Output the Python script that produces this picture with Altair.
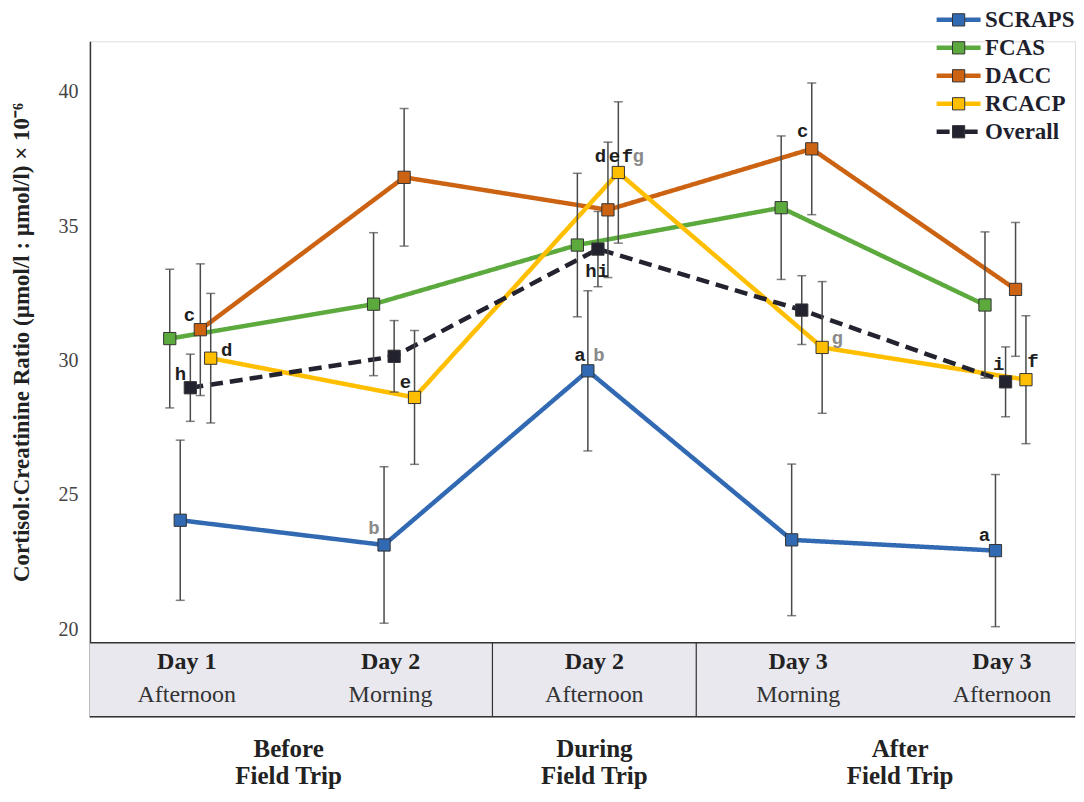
import altair as alt
import pandas as pd

# ---------------- data ----------------
series = ["SCRAPS", "FCAS", "DACC", "RCACP", "Overall"]
day_labels = ["Day 1", "Day 2", "Day 2", "Day 3", "Day 3"]
time_labels = ["Afternoon", "Morning", "Afternoon", "Morning", "Afternoon"]
phase_line1 = ["Before", "During", "After"]
phase_line2 = ["Field Trip", "Field Trip", "Field Trip"]
phase_of_time = [0, 0, 1, 2, 2]

scraps_mean = [24.06, 23.14, 29.62, 23.33, 22.93]
scraps_err = [2.98, 2.91, 2.98, 2.82, 2.83]
fcas_mean = [30.82, 32.10, 34.30, 35.69, 32.07]
fcas_err = [2.58, 2.66, 2.67, 2.67, 2.72]
dacc_mean = [31.15, 36.82, 35.61, 37.88, 32.65]
dacc_err = [2.45, 2.56, 2.52, 2.45, 2.49]
rcacp_mean = [30.09, 28.63, 37.00, 30.49, 29.29]
rcacp_err = [2.41, 2.49, 2.63, 2.45, 2.38]
overall_mean = [28.99, 30.16, 34.15, 31.88, 29.21]
overall_err = [1.25, 1.33, 1.40, 1.28, 1.30]

# significance letters
letter_text = ["c", "d", "h", "b", "e", "a", "b", "d", "e", "f", "g", "h", "i", "c", "g", "a", "i", "f"]
letter_series = ["DACC", "RCACP", "Overall", "SCRAPS", "RCACP", "SCRAPS", "SCRAPS", "RCACP", "RCACP",
                 "RCACP", "RCACP", "Overall", "Overall", "DACC", "RCACP", "SCRAPS", "Overall", "RCACP"]
letter_time = [0, 0, 0, 1, 1, 2, 2, 2, 2, 2, 2, 2, 2, 3, 3, 4, 4, 4]
letter_grey = [False, False, False, True, False, False, True, False, False, False, True,
               False, False, False, True, False, False, False]

# ---------------- layout / style ----------------
colors = ["#3169b3", "#5caa3e", "#cc6313", "#ffbf00", "#22232f"]
dashes = [[1, 0], [1, 0], [1, 0], [1, 0], [13, 7]]
series_nudge_px = {"FCAS": -17, "SCRAPS": -6.5, "Overall": 3.6, "DACC": 13.6, "RCACP": 24}
letter_nudge_px = [(-11, -15), (16, -8), (-10, -14), (-10, -17), (-9, -15), (-8, -16), (11, -16),
                   (-18, -16), (-4, -16), (9, -16), (20, -16), (-7, 22), (5, 22), (-9, -18),
                   (15, -9), (-11, -16), (-7, -18), (7, -19)]

PX_X = 204.0
PX_Y = 26.9
W = 986
H = 676
X_MIN = -0.475
X_MAX = X_MIN + W / PX_X
Y_MIN = 16.75          # bottom of the time-point table
Y_TABLE_TOP = 19.5     # top of the table / bottom of plotting region
Y_MAX = Y_MIN + H / PX_Y
Y_DAY = 18.79
Y_TIME = 17.55
Y_PHASE1 = 15.55
Y_PHASE2 = 14.55
FONT = "Liberation Serif"

means = dict(zip(series, [scraps_mean, fcas_mean, dacc_mean, rcacp_mean, overall_mean]))
errs = dict(zip(series, [scraps_err, fcas_err, dacc_err, rcacp_err, overall_err]))

rows = []
for s in series:
    for i in range(len(day_labels)):
        m = means[s][i]
        e = errs[s][i]
        rows.append(dict(series=s, marker=s.lower(), t=i,
                         x=i + series_nudge_px[s] / PX_X,
                         mean=m, lo=m - e, hi=m + e))
df = pd.DataFrame(rows)

ann_rows = []
for txt, s, i, g, (dx, dy) in zip(letter_text, letter_series, letter_time, letter_grey, letter_nudge_px):
    ann_rows.append(dict(text=txt,
                         x=i + (series_nudge_px[s] + dx) / PX_X,
                         y=means[s][i] - dy / PX_Y,
                         color="#8a8a8a" if g else "#1e1e1e"))
ann = pd.DataFrame(ann_rows)

xscale = alt.Scale(domain=[X_MIN, X_MAX], nice=False, zero=False)
yscale = alt.Scale(domain=[Y_MIN, Y_MAX], nice=False, zero=False)
title_y = (Y_MAX - (Y_TABLE_TOP + Y_MAX) / 2) * PX_Y
yaxis = alt.Axis(values=[20, 25, 30, 35, 40], ticks=False, grid=False, domainColor="#333333",
                 domainWidth=1.5, labelFontSize=20, labelColor="#444444", labelPadding=12,
                 labelFont=FONT,
                 title="Cortisol:Creatinine Ratio (µmol/l : µmol/l) × 10⁻⁶",
                 titleFont=FONT, titleFontSize=23, titleFontWeight="bold", titleColor="#222222",
                 titleX=-56, titleY=title_y, titleAngle=270, titleAlign="center",
                 titleBaseline="bottom")


def X(field):
    return alt.X(field, scale=xscale, axis=None)


def Y(field):
    return alt.Y(field, scale=yscale, axis=yaxis)


line_legend = alt.Legend(title=None, orient="none", legendX=847, legendY=-33, direction="vertical",
                         symbolType="M-4,0H-1.1M1.1,0H4", symbolSize=121, symbolStrokeWidth=4.5,
                         symbolOffset=11, labelFont=FONT, labelFontSize=23, labelFontWeight="bold",
                         labelColor="#1f1f2e", labelOffset=15, rowPadding=4, padding=0,
                         labelLimit=300)
square_legend = alt.Legend(title=None, orient="none", legendX=847, legendY=-33, direction="vertical",
                           symbolType="square", symbolSize=150, symbolStrokeWidth=1,
                           symbolStrokeColor="#333333", symbolOpacity=1, symbolOffset=11,
                           labelFont=FONT, labelFontSize=23, labelExpr="''", labelOffset=15,
                           rowPadding=4, padding=0)

# ---------------- table below the plot ----------------
n_t = len(day_labels)
band = pd.DataFrame([dict(x=X_MIN, x2=X_MAX, y=Y_MIN, y2=Y_TABLE_TOP)])
hlines = pd.DataFrame([dict(x=X_MIN, x2=X_MAX, y=Y_TABLE_TOP), dict(x=X_MIN, x2=X_MAX, y=Y_MIN)])
dividers = pd.DataFrame([dict(x=(i + i + 1) / 2, y=Y_MIN, y2=Y_TABLE_TOP)
                         for i in range(n_t - 1) if phase_of_time[i] != phase_of_time[i + 1]])
day_df = pd.DataFrame(dict(x=list(range(n_t)), day=day_labels, time=time_labels,
                           yd=[Y_DAY] * n_t, yt=[Y_TIME] * n_t))
phase_centers = []
for p in range(len(phase_line1)):
    idx = [i for i in range(n_t) if phase_of_time[i] == p]
    phase_centers.append(sum(idx) / len(idx))
phase_df = pd.DataFrame(dict(x=phase_centers + phase_centers,
                             label=phase_line1 + phase_line2,
                             y=[Y_PHASE1] * len(phase_line1) + [Y_PHASE2] * len(phase_line2)))

band_layer = alt.Chart(band).mark_rect(fill="#e8e8ee").encode(
    x=X("x:Q"), x2="x2:Q", y=Y("y:Q"), y2="y2:Q")
hline_layer = alt.Chart(hlines).mark_rule(color="#333333", strokeWidth=1.5).encode(
    x=X("x:Q"), x2="x2:Q", y=Y("y:Q"))
div_layer = alt.Chart(dividers).mark_rule(color="#333333", strokeWidth=1.2).encode(
    x=X("x:Q"), y=Y("y:Q"), y2="y2:Q")
day_layer = alt.Chart(day_df).mark_text(font=FONT, fontSize=24, fontWeight="bold",
                                        color="#222222", baseline="middle").encode(
    x=X("x:Q"), y=Y("yd:Q"), text="day:N")
time_layer = alt.Chart(day_df).mark_text(font=FONT, fontSize=24, color="#333333",
                                         baseline="middle").encode(
    x=X("x:Q"), y=Y("yt:Q"), text="time:N")
phase_layer = alt.Chart(phase_df).mark_text(font=FONT, fontSize=25, fontWeight="bold",
                                            color="#222222", baseline="middle").encode(
    x=X("x:Q"), y=Y("y:Q"), text="label:N")

# ---------------- data layers ----------------
lines = alt.Chart(df).mark_line(strokeWidth=4.5).encode(
    x=X("x:Q"), y=Y("mean:Q"),
    stroke=alt.Stroke("series:N", scale=alt.Scale(domain=series, range=colors), legend=line_legend),
    strokeDash=alt.StrokeDash("series:N", scale=alt.Scale(domain=series, range=dashes),
                              legend=line_legend),
    order="t:Q")

errbars = alt.Chart(df).mark_errorbar(ticks=True, size=9, thickness=1.5, color="#4a4a4a",
                                      orient="vertical").encode(
    x=X("x:Q"), y=Y("lo:Q"), y2="hi:Q")

points = alt.Chart(df).mark_point(shape="square", filled=True, size=150, stroke="#333333",
                                  strokeWidth=1, opacity=1).encode(
    x=X("x:Q"), y=Y("mean:Q"),
    fill=alt.Fill("marker:N", scale=alt.Scale(domain=[s.lower() for s in series], range=colors),
                  legend=square_legend))

letters = alt.Chart(ann).mark_text(font="Liberation Mono", fontSize=19, fontWeight="bold",
                                   baseline="middle", align="center").encode(
    x=X("x:Q"), y=Y("y:Q"), text="text:N", color=alt.Color("color:N", scale=None))

chart = alt.layer(
    band_layer, hline_layer, div_layer, day_layer, time_layer, phase_layer,
    lines, errbars, points, letters
).properties(
    width=W, height=H,
    padding={"left": 2, "top": 0, "right": 0, "bottom": 0}
).configure_view(strokeWidth=0).configure(font=FONT, background="white")

chart.save("out.html", embed_options={"renderer": "svg", "actions": False})
